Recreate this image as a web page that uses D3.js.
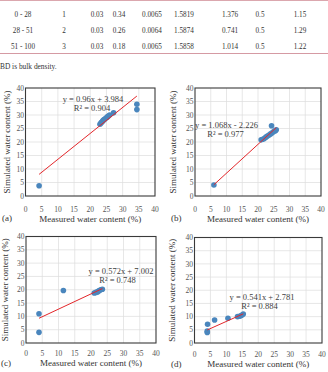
<!DOCTYPE html>
<html>
<head>
<meta charset="utf-8">
<script src="https://cdn.jsdelivr.net/npm/d3@7/dist/d3.min.js"></script>
<style>
  body { margin: 0; background: #fff; }
  svg { display: block; font-family: "Liberation Serif", "Times New Roman", serif; }
</style>
</head>
<body>
<div id="chart"></div>
<script>
// Table rows (top of the figure)
const tableRows = [
    ["0 - 28", "1", "0.03", "0.34", "0.0065", "1.5819", "1.376", "0.5", "1.15"],
    ["28 - 51", "2", "0.03", "0.26", "0.0064", "1.5874", "0.741", "0.5", "1.29"],
    ["51 - 100", "3", "0.03", "0.18", "0.0065", "1.5858", "1.014", "0.5", "1.22"]
];
const tableNote = "BD is bulk density.";

// Axis ticks (same for all panels)
const axisTicks = [0, 5, 10, 15, 20, 25, 30, 35, 40];

// Measured (x) vs simulated (y) water content, one pair of arrays per panel
const measuredA = [4.2, 23, 23.3, 23.5, 23.8, 24, 24.3, 24.6, 25, 25.3, 25.6, 26, 27.2, 34.4, 34.4];
const simulatedA = [3.8, 26.6, 27, 27.3, 27.7, 28, 28.3, 28.6, 29, 29.3, 29.6, 30, 30.8, 34, 32];
const measuredB = [6, 21, 21.5, 22, 22.5, 23, 23.5, 24, 24.5, 25, 25.5, 25.8, 24.3];
const simulatedB = [4.1, 20.8, 21, 21.3, 21.8, 22.2, 22.6, 23, 23.4, 23.9, 24.2, 24.5, 26];
const measuredC = [4, 4, 11.5, 21, 21.5, 22, 22.3, 22.6, 23, 23.5];
const simulatedC = [4, 11, 19.7, 18.8, 19, 19.2, 19.5, 19.7, 20, 20.2];
const measuredD = [4, 4, 4.1, 6.3, 10.5, 13.5, 14.3, 14.8, 15.3];
const simulatedD = [4, 4.5, 7.1, 8.7, 9.4, 10, 10.2, 10.5, 11];

// Linear fits (slope, intercept, R²) and labels
const fitSlope = [0.96, 1.068, 0.572, 0.541];
const fitIntercept = [3.984, -2.226, 7.002, 2.781];
const fitEquations = ["y = 0.96x + 3.984", "y = 1.068x - 2.226", "y = 0.572x + 7.002", "y = 0.541x + 2.781"];
const fitR2 = ["R² = 0.904", "R² = 0.977", "R² = 0.748", "R² = 0.884"];
const panelLabels = ["(a)", "(b)", "(c)", "(d)"];

const W = 328, H = 372;
const svg = d3.select("#chart").append("svg")
    .attr("width", W)
    .attr("height", H);

// ---- table ----
const colX = [23, 64, 97, 119, 152, 184, 230, 260, 300];
const rowY = [14, 30.5, 46.5];
svg.append("line").attr("x1", 0).attr("x2", W).attr("y1", 0.5).attr("y2", 0.5)
    .attr("stroke", "#dba7ae").attr("stroke-width", 1);
svg.append("line").attr("x1", 0).attr("x2", W).attr("y1", 53.5).attr("y2", 53.5)
    .attr("stroke", "#d59aa3").attr("stroke-width", 1.2);
tableRows.forEach((row, i) => {
    svg.append("g").selectAll("text")
        .data(row)
        .enter()
        .append("text")
        .attr("x", (d, j) => colX[j])
        .attr("y", rowY[i])
        .attr("dy", "0.35em")
        .attr("text-anchor", "middle")
        .style("font-size", "7.2px")
        .style("fill", "#333")
        .text(d => d);
});
svg.append("text")
    .attr("x", 0).attr("y", 66)
    .attr("dy", "0.35em")
    .style("font-size", "7.4px")
    .style("fill", "#333")
    .text(tableNote);

// ---- scatter panels ----
const panels = [
    { xs: measuredA, ys: simulatedA, left: 25.5, right: 155, top: 88, bottom: 196, tickY: 209.5, titleY: 218.5, yTitleX: 7,
      eq: [93, 99.5, 92, 108], lab: [2, 218] },
    { xs: measuredB, ys: simulatedB, left: 195, right: 321, top: 88, bottom: 196, tickY: 209.5, titleY: 218.5, yTitleX: 173,
      eq: [226.5, 125, 225.5, 134], lab: [171, 218] },
    { xs: measuredC, ys: simulatedC, left: 26, right: 156, top: 236.5, bottom: 343, tickY: 353.5, titleY: 363, yTitleX: 5,
      eq: [121, 271.5, 117.5, 280.5], lab: [1, 363] },
    { xs: measuredD, ys: simulatedD, left: 194.5, right: 322, top: 237.5, bottom: 343, tickY: 354, titleY: 363.5, yTitleX: 172,
      eq: [262, 297.5, 259.5, 306], lab: [171, 364] }
];

panels.forEach((p, k) => {
    const g = svg.append("g");
    const x = d3.scaleLinear().domain([0, 40]).range([p.left, p.right]);
    const y = d3.scaleLinear().domain([0, 40]).range([p.bottom, p.top]);

    // gridlines
    g.append("g").selectAll("line.v")
        .data(axisTicks.slice(1, -1))
        .enter().append("line")
        .attr("x1", d => x(d)).attr("x2", d => x(d))
        .attr("y1", p.top).attr("y2", p.bottom)
        .attr("stroke", "#dcdcdc").attr("stroke-width", 0.7);
    g.append("g").selectAll("line.h")
        .data(axisTicks.slice(1, -1))
        .enter().append("line")
        .attr("x1", p.left).attr("x2", p.right)
        .attr("y1", d => y(d)).attr("y2", d => y(d))
        .attr("stroke", "#dcdcdc").attr("stroke-width", 0.7);

    // box
    g.append("rect")
        .attr("x", p.left).attr("y", p.top)
        .attr("width", p.right - p.left).attr("height", p.bottom - p.top)
        .attr("fill", "none").attr("stroke", "#3a3a3a").attr("stroke-width", 1.1);

    // y tick labels
    g.append("g").selectAll("text")
        .data(axisTicks)
        .enter().append("text")
        .attr("x", p.left - 1.5)
        .attr("y", d => y(d))
        .attr("dy", "0.35em")
        .attr("text-anchor", "end")
        .style("font-size", "7.5px")
        .style("fill", "#555")
        .text(d => d);

    // x tick labels (sit well below the box, as in the source)
    g.append("g").selectAll("text")
        .data(axisTicks)
        .enter().append("text")
        .attr("x", d => x(d))
        .attr("y", p.tickY)
        .attr("dy", "0.35em")
        .attr("text-anchor", "middle")
        .style("font-size", "7.5px")
        .style("fill", "#555")
        .text(d => d);

    // axis titles
    g.append("text")
        .attr("x", (p.left + p.right) / 2)
        .attr("y", p.titleY)
        .attr("dy", "0.35em")
        .attr("text-anchor", "middle")
        .style("font-size", "9px")
        .style("fill", "#333")
        .text("Measured water content (%)");
    g.append("text")
        .attr("transform", "translate(" + p.yTitleX + "," + (p.top + p.bottom) / 2 + ")rotate(-90)")
        .attr("dy", "0.35em")
        .attr("text-anchor", "middle")
        .style("font-size", "9px")
        .style("fill", "#333")
        .text("Simulated water content (%)");

    // panel label
    g.append("text")
        .attr("x", p.lab[0]).attr("y", p.lab[1])
        .attr("dy", "0.35em")
        .style("font-size", "9px")
        .style("fill", "#333")
        .text(panelLabels[k]);

    // points
    const pts = p.xs.map((v, i) => ({ m: v, s: p.ys[i] }));
    g.append("g").selectAll("circle")
        .data(pts)
        .enter().append("circle")
        .attr("cx", d => x(d.m))
        .attr("cy", d => y(d.s))
        .attr("r", 2.8)
        .attr("fill", "#4a86bd");

    // fit line over the range of the measured values
    const ext = d3.extent(p.xs);
    const line = d3.line().x(d => x(d)).y(d => y(fitSlope[k] * d + fitIntercept[k]));
    g.append("path")
        .datum(ext)
        .attr("d", line)
        .attr("fill", "none")
        .attr("stroke", "#e3262a")
        .attr("stroke-width", 1);

    // equation
    g.append("text")
        .attr("x", p.eq[0]).attr("y", p.eq[1])
        .attr("dy", "0.35em")
        .attr("text-anchor", "middle")
        .style("font-size", "8.5px")
        .style("fill", "#404040")
        .text(fitEquations[k]);
    g.append("text")
        .attr("x", p.eq[2]).attr("y", p.eq[3])
        .attr("dy", "0.35em")
        .attr("text-anchor", "middle")
        .style("font-size", "8.5px")
        .style("fill", "#404040")
        .text(fitR2[k]);
});
</script>
</body>
</html>
